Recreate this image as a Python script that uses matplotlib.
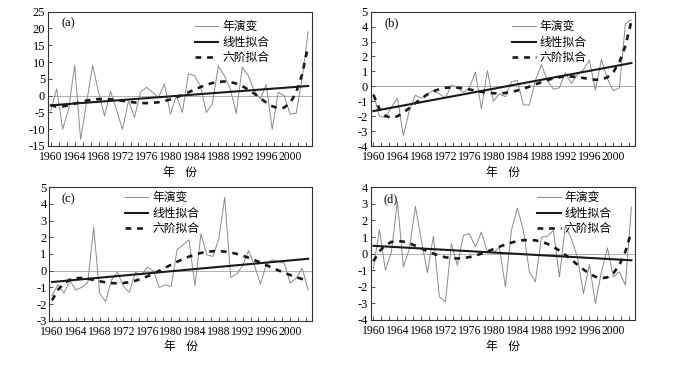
import numpy as np
import matplotlib
matplotlib.use("Agg")
import matplotlib.pyplot as plt
from matplotlib.ticker import MultipleLocator, FixedLocator

plt.rcParams['axes.unicode_minus'] = False

# ---------------- data ----------------
years = np.arange(1960, 2004)          # 44 annual values
tick_years = [1960, 1964, 1968, 1972, 1976, 1980, 1984, 1988, 1992, 1996, 2000]

series_a = [-4.5, 2, -10, -4, 9, -13, -2, 9, 1, -6, 1.3, -4.3, -10, -1.5, -6.5,
            1, 2.5, 1, -0.5, 3.5, -5.5, 0, -5, 6.5, 6, 3, -5, -2.5, 8.8, 6,
            2, -5.3, 8.5, 6, 1.5, -1, 3.3, -10, 1, 0, -5.5, -5.3, 5, 19]
series_b = [-0.5, -2.0, -2.1, -1.4, -0.8, -3.3, -1.6, -0.6, -0.8, -0.5, -0.3,
            -0.5, -0.8, 0.1, -0.1, -0.4, -0.1, 0.95, -1.5, 1.05, -1.0, -0.5,
            -0.7, 0.3, 0.4, -1.25, -1.25, 0.4, 1.45, 0.4, -0.2, -0.1, 0.9, 0.2,
            0.8, 1.1, 1.75, -0.25, 1.8, 0.5, -0.3, -0.1, 4.2, 4.45]
series_c = [-1.5, -0.85, -1.35, -0.6, -1.15, -1.0, -0.7, 2.6, -1.35, -1.85,
            -0.55, -0.1, -0.95, -1.3, -0.1, -0.25, 0.2, 0.0, -1.0, -0.85, -0.95,
            1.25, 1.55, 1.85, -0.9, 2.2, 0.95, 0.85, 1.9, 4.4, -0.4, -0.2, 0.3,
            1.2, 0.3, -0.8, 0.4, 0.65, 0.55, 0.45, -0.75, -0.45, 0.15, -1.15]
series_d = [-0.9, 1.45, -1.0, 0.1, 3.15, -0.8, 0.3, 2.85, 0.8, -1.15, 1.05,
            -2.6, -2.9, 0.6, -0.7, 1.1, 1.2, 0.4, 1.3, 0.1, 0.05, 0.4, -2.0,
            1.4, 2.75, 1.4, -1.1, -1.7, 1.0, 1.05, 1.4, -1.4, 1.7, 0.9, -0.2,
            -2.4, -0.65, -3.0, -1.1, 0.35, -1.4, -1.1, -1.9, 2.8]

legend_labels = ['年演变', '线性拟合', '六阶拟合']
panel_tags = ['(a)', '(b)', '(c)', '(d)']
xlabel_text = '年    份'
yranges = [(-15, 25, 5), (-4, 5, 1), (-3, 5, 1), (-4, 4, 1)]

# ---------------- layout ----------------
W, H = 696, 365
fig = plt.figure(figsize=(W / 100, H / 100), dpi=100)

# (left, top, right, bottom) in pixels
boxes = [(48, 11.7, 311.7, 146), (370.7, 11.7, 635, 146),
         (49.3, 187.3, 311.7, 320.7), (370.7, 187.3, 635, 320)]
legend_pos = [(0.557, 0.935), (0.535, 0.935), (0.288, 0.97), (0.629, 0.97)]
tag_pos = [(0.053, 0.915), (0.054, 0.915), (0.047, 0.91), (0.048, 0.91)]

serif = 'Liberation Serif'
cjk = ['Noto Sans CJK SC', 'DejaVu Sans']

all_series = [series_a, series_b, series_c, series_d]
for i, (data, box) in enumerate(zip(all_series, boxes)):
    l, t, r, b = box
    ax = fig.add_axes([l / W, 1 - b / H, (r - l) / W, (b - t) / H])
    y = np.asarray(data, dtype=float)
    x = years.astype(float)

    lin = np.polynomial.Polynomial.fit(x, y, 1)
    poly6 = np.polynomial.Polynomial.fit(x, y, 6)

    ax.axhline(0, color='#b0b0b0', lw=0.7, zorder=1)
    h1, = ax.plot(x, y, color='#8a8a8a', lw=0.7, zorder=2)
    h2, = ax.plot(x, lin(x), color='#1a1a1a', lw=1.5, zorder=3)
    h3, = ax.plot(x, poly6(x), color='#1a1a1a', lw=1.9,
                  linestyle=(0, (2.2, 2.2)), zorder=4)

    ax.set_xlim(1959.55, 2003.6)
    ymin, ymax, ystep = yranges[i]
    ax.set_ylim(ymin, ymax)
    ax.yaxis.set_major_locator(MultipleLocator(ystep))
    ax.xaxis.set_major_locator(FixedLocator(tick_years))
    ax.xaxis.set_minor_locator(FixedLocator(np.arange(1960, 2004, 4 / 3)))
    ax.set_xticklabels([str(v) for v in tick_years])
    ax.tick_params(axis='both', which='both', direction='in',
                   width=0.6, color='#333333')
    ax.tick_params(axis='x', which='both', length=3, labelsize=8.4, pad=3.5)
    ax.tick_params(axis='y', length=3, labelsize=9, pad=2)
    for lab in ax.get_xticklabels() + ax.get_yticklabels():
        lab.set_fontfamily(serif)
    for sp in ax.spines.values():
        sp.set_linewidth(0.8)
        sp.set_color('#333333')

    ax.set_xlabel(xlabel_text, family=cjk, fontsize=8.5, labelpad=2)
    ax.text(tag_pos[i][0], tag_pos[i][1], panel_tags[i], transform=ax.transAxes,
            family=serif, fontsize=9, va='center', ha='left')

    leg = ax.legend([h1, h2, h3], legend_labels, loc='upper left',
                    bbox_to_anchor=legend_pos[i], frameon=False,
                    prop={'family': cjk, 'size': 8.5},
                    handlelength=2.0, handletextpad=0.3, labelspacing=0.2,
                    borderpad=0, borderaxespad=0)

fig.savefig('out.png', dpi=100)
